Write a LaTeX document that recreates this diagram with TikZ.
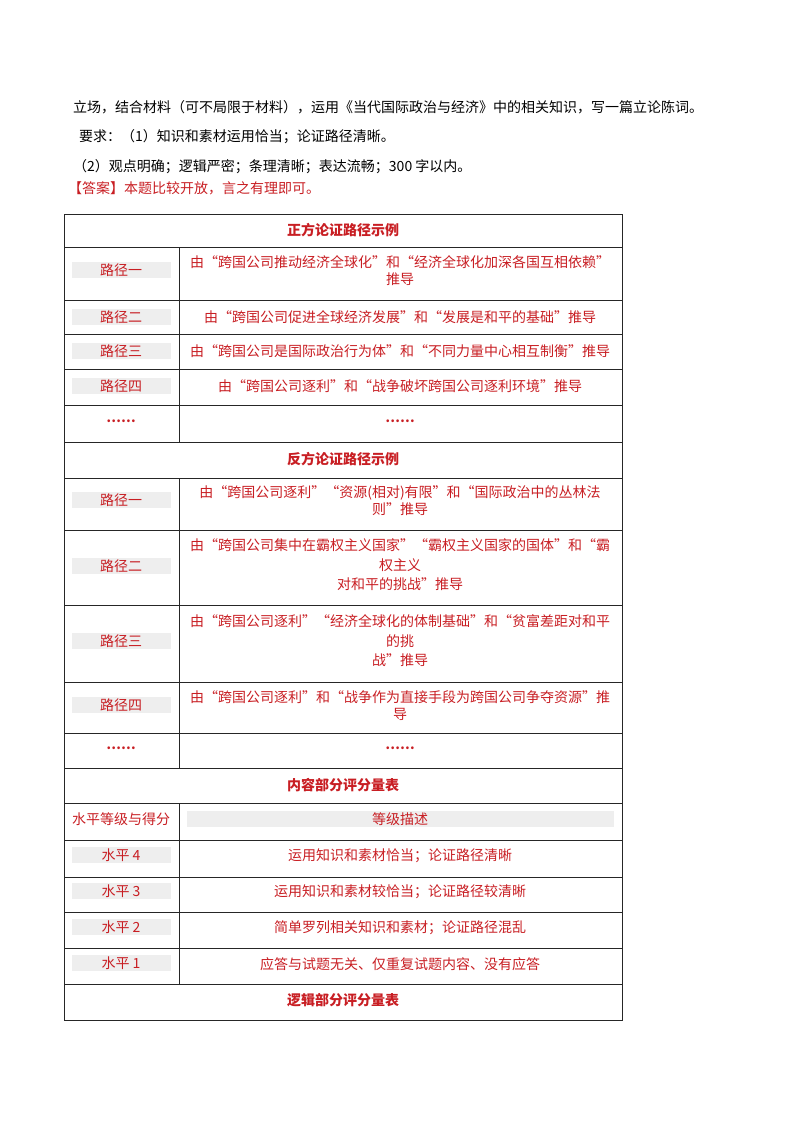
\documentclass[tikz,border=0pt]{standalone}
\usepackage{fontspec}
\setmainfont{Noto Sans CJK SC}
\definecolor{ansred}{RGB}{200,30,35}
\definecolor{cellgray}{RGB}{238,238,238}
\begin{document}
\begin{tikzpicture}[x=1pt,y=-1pt,
  txt/.style={font=\fontsize{14}{16}\selectfont,inner sep=0pt,anchor=west},
  red/.style={font=\fontsize{14}{17}\selectfont,text=ansred,inner sep=0pt,align=center},
  hdr/.style={font=\fontsize{14}{16}\selectfont\bfseries,text=ansred,inner sep=0pt},
  lab/.style={fill=cellgray,minimum width=99pt,minimum height=16pt,inner sep=0pt,text=ansred,font=\fontsize{14}{16}\selectfont},
  rule/.style={line width=0.8pt,black!85}]
\useasboundingbox (0,0) rectangle (800,1132);
\node[txt] (l1) at (73,107) {立场，结合材料（可不局限于材料），运用《当代国际政治与经济》中的相关知识，写一篇立论陈词。};
\node[txt] (l2) at (79,137) {要求：（1）知识和素材运用恰当；论证路径清晰。};
\node[txt] (l3) at (73,167) {（2）观点明确；逻辑严密；条理清晰；表达流畅；300 字以内。};
\node[txt,text=ansred] (l4) at (68,188) {【答案】本题比较开放，言之有理即可。};
% table frame
\draw[rule] (64,214) rectangle (622,1020);
\foreach \y in {247,300,334,369,405,442,478,530,605,682,733,768,803,840,877,912,948,984}
  \draw[rule] (64,\y) -- (622,\y);
\foreach \a/\b in {247/442,478/768,803/984}
  \draw[rule] (179,\a) -- (179,\b);
% headers
\node[hdr] (h1) at (343,230) {正方论证路径示例};
\node[hdr] (h2) at (343,459) {反方论证路径示例};
\node[hdr] (h3) at (343,785) {内容部分评分量表};
\node[hdr] (h4) at (343,1000) {逻辑部分评分量表};
% positive
\node[lab] (p1) at (121,270) {路径一};
\node[red] (q1) at (400,271) {由“跨国公司推动经济全球化”和“经济全球化加深各国互相依赖”\\推导};
\node[lab] (p2) at (121,317) {路径二};
\node[red] (q2) at (400,317) {由“跨国公司促进全球经济发展”和“发展是和平的基础”推导};
\node[lab] (p3) at (121,351) {路径三};
\node[red] (q3) at (400,351) {由“跨国公司是国际政治行为体”和“不同力量中心相互制衡”推导};
\node[lab] (p4) at (121,386) {路径四};
\node[red] (q4) at (400,386) {由“跨国公司逐利”和“战争破坏跨国公司逐利环境”推导};
\node[lab,fill=none,font=\fontsize{13}{14}\selectfont\bfseries] (p5) at (121,421) {……};
\node[red,font=\fontsize{13}{14}\selectfont\bfseries] (q5) at (400,421) {……};
% negative
\node[lab] (n1) at (121,500) {路径一};
\node[red] (m1) at (400,501) {由“跨国公司逐利”“资源(相对)有限”和“国际政治中的丛林法\\则”推导};
\node[lab] (n2) at (121,566) {路径二};
\node[red,font=\fontsize{14}{19.5}\selectfont] (m2) at (400,565) {由“跨国公司集中在霸权主义国家”“霸权主义国家的国体”和“霸\\权主义\\对和平的挑战”推导};
\node[lab] (n3) at (121,641) {路径三};
\node[red,font=\fontsize{14}{19.5}\selectfont] (m3) at (400,641) {由“跨国公司逐利”“经济全球化的体制基础”和“贫富差距对和平\\的挑\\战”推导};
\node[lab] (n4) at (121,705) {路径四};
\node[red] (m4) at (400,706) {由“跨国公司逐利”和“战争作为直接手段为跨国公司争夺资源”推\\导};
\node[lab,fill=none,font=\fontsize{13}{14}\selectfont\bfseries] (n5) at (121,748) {……};
\node[red,font=\fontsize{13}{14}\selectfont\bfseries] (m5) at (400,748) {……};
% scoring
\node[red] (s0) at (121,819) {水平等级与得分};
\node[lab,minimum width=427pt] (t0) at (400,819) {等级描述};
\node[lab] (s1) at (121,855) {水平 4};
\node[red] (t1) at (400,856) {运用知识和素材恰当；论证路径清晰};
\node[lab] (s2) at (121,891) {水平 3};
\node[red] (t2) at (400,892) {运用知识和素材较恰当；论证路径较清晰};
\node[lab] (s3) at (121,927) {水平 2};
\node[red] (t3) at (400,928) {简单罗列相关知识和素材；论证路径混乱};
\node[lab] (s4) at (121,963) {水平 1};
\node[red] (t4) at (400,964) {应答与试题无关、仅重复试题内容、没有应答};
\end{tikzpicture}
\end{document}
